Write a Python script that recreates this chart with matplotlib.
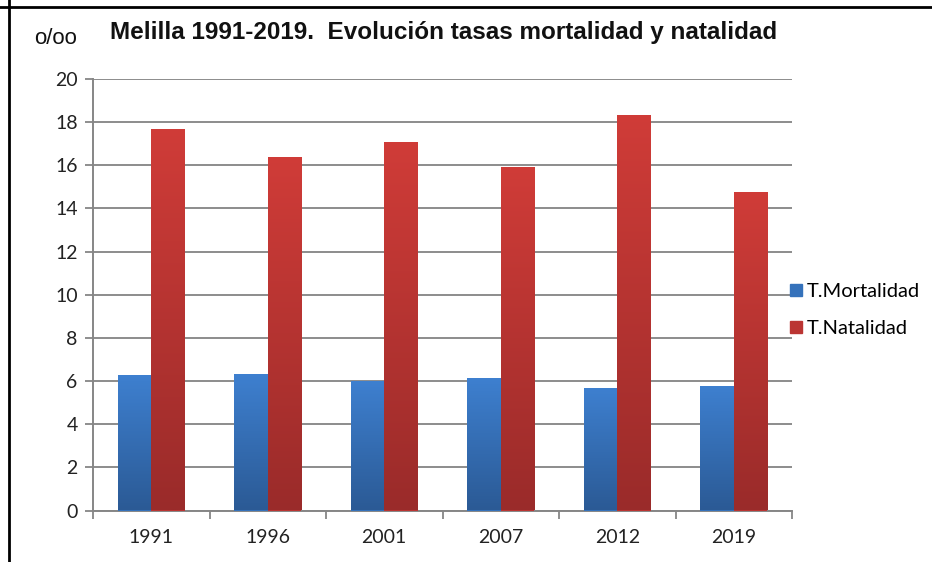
import matplotlib.pyplot as plt
import numpy as np
from matplotlib.colors import LinearSegmentedColormap
from matplotlib.lines import Line2D

years = ['1991', '1996', '2001', '2007', '2012', '2019']
mortalidad = [6.26, 6.32, 6.02, 6.16, 5.68, 5.78]
natalidad = [17.7, 16.4, 17.1, 15.9, 18.35, 14.77]

blue_cm = LinearSegmentedColormap.from_list('b', ['#2b5a95', '#3e80d0'])
red_cm = LinearSegmentedColormap.from_list('r', ['#9a2b2a', '#d03c38'])

fig = plt.figure(figsize=(9.32, 5.62), dpi=100)
ax = fig.add_axes([93 / 932, 1 - 510.5 / 562, 699 / 932, (510.5 - 79) / 562])

x = np.arange(len(years))
w = 0.287
grad = np.linspace(0, 1, 256).reshape(-1, 1)


def gradient_bars(xs, vals, cmap, color):
    bars = ax.bar(xs, vals, w, color=color, zorder=3)
    for b in bars:
        x0, y0 = b.get_x(), b.get_y()
        im = ax.imshow(grad, cmap=cmap, origin='lower', aspect='auto',
                       extent=(x0, x0 + b.get_width(), y0, y0 + b.get_height()),
                       zorder=4)
        im.set_clip_path(b)
    return bars


gradient_bars(x - w / 2, mortalidad, blue_cm, '#3572bb')
gradient_bars(x + w / 2, natalidad, red_cm, '#bb3533')

ax.set_xlim(-0.5, len(years) - 0.5)
ax.set_ylim(0, 20)
ax.set_yticks(range(0, 21, 2))
ax.yaxis.grid(True, color='#8c8c8c', linewidth=1.4, zorder=0)
ax.set_axisbelow(True)

ax.set_xticks(np.arange(-0.5, len(years), 1))
ax.set_xticklabels([])
ax.set_xticks(x, minor=True)
ax.set_xticklabels(years, minor=True)
ax.tick_params(axis='x', which='minor', length=0, pad=13)
ax.tick_params(axis='x', which='major', length=6, color='#868686', width=1.3)
ax.tick_params(axis='y', length=6, color='#868686', width=1.3, pad=5)

for lab in ax.get_xticklabels(minor=True) + ax.get_yticklabels():
    lab.set_fontfamily('Lato')
    lab.set_fontsize(14)
    lab.set_color('#222222')

for s in ['top', 'right']:
    ax.spines[s].set_visible(False)
for s in ['left', 'bottom']:
    ax.spines[s].set_color('#868686')
    ax.spines[s].set_linewidth(1.4)

fig.text(444 / 932, 1 - 33 / 562, 'Melilla 1991-2019.  Evolución tasas mortalidad y natalidad',
         ha='center', va='center', fontsize=17.5, fontweight='bold',
         family='Liberation Sans', color='#111111')
fig.text(56 / 932, 1 - 39 / 562, 'o/oo', ha='center', va='center',
         fontsize=16, family='Liberation Sans', color='#111111')

handles = [Line2D([], [], marker='s', linestyle='none', markersize=8,
                  markerfacecolor='#3572bb', markeredgecolor='#3572bb'),
           Line2D([], [], marker='s', linestyle='none', markersize=8,
                  markerfacecolor='#bb3533', markeredgecolor='#bb3533')]
fig.legend(handles, ['T.Mortalidad', 'T.Natalidad'], loc='center left',
           bbox_to_anchor=(768 / 932, 1 - 310 / 562), frameon=False,
           prop={'family': 'Lato', 'size': 14.5}, handletextpad=0.0,
           labelspacing=0.95, handlelength=1.0)

# frame lines of the original picture
fig.add_artist(Line2D([0, 1], [1 - 6.5 / 562] * 2, color='black', linewidth=2))
fig.add_artist(Line2D([9 / 932] * 2, [0, 1], color='black', linewidth=2))

fig.savefig('out.png', dpi=100)
